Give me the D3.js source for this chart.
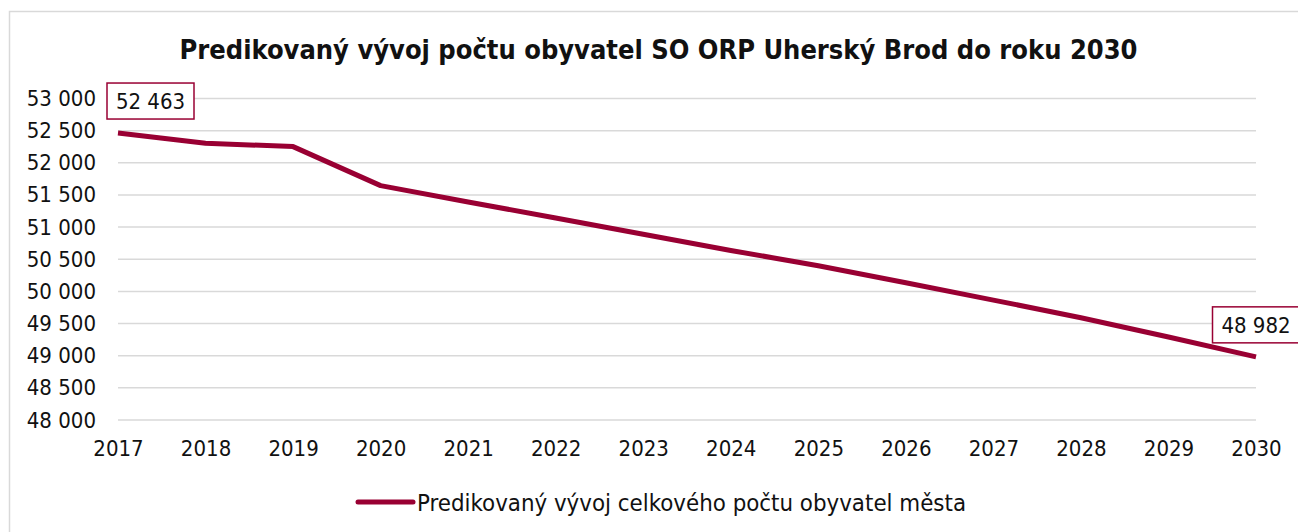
<!DOCTYPE html>
<html lang="cs">

<head>
  <meta charset="UTF-8">
  <title>Predikovaný vývoj počtu obyvatel</title>
  <style>
    body {
      margin: 0;
      background: #fff;
    }

    svg {
      display: block;
      font-family: "DejaVu Sans Condensed", "DejaVu Sans", sans-serif;
    }

    .grid line {
      stroke: #d9d9d9;
      stroke-width: 1.5;
    }
  </style>
</head>

<body>
  <div id="chart"></div>
  <script src="https://d3js.org/d3.v7.min.js"></script>
  <script>
    // data
    const years = [2017, 2018, 2019, 2020, 2021, 2022, 2023, 2024, 2025, 2026, 2027, 2028, 2029, 2030]
    const population = [52463, 52304, 52252, 51645, 51391, 51141, 50889, 50637, 50400, 50135, 49865, 49590, 49290, 48982]
    const yTicks = [48000, 48500, 49000, 49500, 50000, 50500, 51000, 51500, 52000, 52500, 53000]
    const labelled = [2017, 2030]

    const title = 'Predikovaný vývoj počtu obyvatel SO ORP Uherský Brod do roku 2030'
    const seriesName = 'Predikovaný vývoj celkového počtu obyvatel města'

    const W = 1298
    const H = 532
    const color = '#990033'

    // plot area (Excel "on tick marks")
    const plotLeft = 118
    const plotRight = 1256
    const plotTop = 98.5
    const plotBottom = 420

    // "52 463" formatting with a space as thousands separator
    const fmt = d => d3.format(',')(d).replace(/,/g, ' ')

    const svg = d3.select('#chart')
      .append('svg')
      .attr('width', W)
      .attr('height', H)

    // chart border
    svg.append('rect')
      .attr('x', 9.5)
      .attr('y', 11.5)
      .attr('width', W + 20)
      .attr('height', H + 20)
      .attr('fill', '#fff')
      .attr('stroke', '#d9d9d9')
      .attr('stroke-width', 1.5)

    svg.append('text')
      .attr('x', 658.5)
      .attr('y', 59)
      .attr('text-anchor', 'middle')
      .attr('font-size', 27)
      .attr('font-weight', 'bold')
      .attr('fill', '#111')
      .text(title)

    let x = d3.scalePoint()
      .domain(years)
      .range([plotLeft, plotRight])

    let y = d3.scaleLinear()
      .domain([48000, 53000])
      .range([plotBottom, plotTop])

    // gridlines
    svg.append('g')
      .attr('class', 'grid')
      .selectAll('line')
      .data(yTicks)
      .enter()
      .append('line')
      .attr('x1', plotLeft)
      .attr('x2', plotRight)
      .attr('y1', d => y(d))
      .attr('y2', d => y(d))

    // y axis
    let yAxis = svg.append('g')
      .attr('transform', `translate(${plotLeft - 12}, 0)`)
      .call(d3.axisLeft(y).tickValues(yTicks).tickSize(0).tickPadding(10).tickFormat(fmt))
    yAxis.select('.domain').remove()
    yAxis.selectAll('text')
      .attr('font-size', 22)
      .attr('fill', '#111')
    yAxis.attr('font-family', null)

    // x axis
    let xAxis = svg.append('g')
      .attr('transform', `translate(0, ${plotBottom})`)
      .call(d3.axisBottom(x).tickSize(0).tickPadding(20).tickFormat(d3.format('')))
    xAxis.select('.domain').remove()
    xAxis.selectAll('text')
      .attr('font-size', 22)
      .attr('fill', '#111')
    xAxis.attr('font-family', null)

    // line
    const data = years.map((yr, i) => ({ year: yr, value: population[i] }))
    let line = d3.line()
      .x(d => x(d.year))
      .y(d => y(d.value))

    svg.append('path')
      .datum(data)
      .attr('fill', 'none')
      .attr('stroke', color)
      .attr('stroke-width', 5)
      .attr('stroke-linejoin', 'round')
      .attr('d', line)

    // data labels (boxed, above point, kept inside plot on the left)
    const boxW = 87
    const boxH = 36
    let labels = svg.append('g')
      .selectAll('g')
      .data(data.filter(d => labelled.includes(d.year)))
      .enter()
      .append('g')
      .attr('transform', d => {
        let cx = Math.max(x(d.year), 107 + boxW / 2)
        let by = y(d.value) - 14
        return `translate(${cx}, ${by})`
      })

    labels.append('rect')
      .attr('x', -boxW / 2)
      .attr('y', -boxH)
      .attr('width', boxW)
      .attr('height', boxH)
      .attr('fill', '#fff')
      .attr('stroke', color)
      .attr('stroke-width', 1.5)

    labels.append('text')
      .attr('y', -boxH / 2)
      .attr('dy', '0.36em')
      .attr('text-anchor', 'middle')
      .attr('font-size', 22)
      .attr('fill', '#111')
      .text(d => fmt(d.value))

    // legend
    let legend = svg.append('g')
      .attr('transform', 'translate(358, 502)')
    legend.append('line')
      .attr('x1', 0)
      .attr('x2', 55)
      .attr('stroke', color)
      .attr('stroke-width', 5)
      .attr('stroke-linecap', 'round')
    legend.append('text')
      .attr('x', 59)
      .attr('dy', '0.36em')
      .attr('font-size', 23.8)
      .attr('fill', '#111')
      .text(seriesName)
  </script>
</body>

</html>
